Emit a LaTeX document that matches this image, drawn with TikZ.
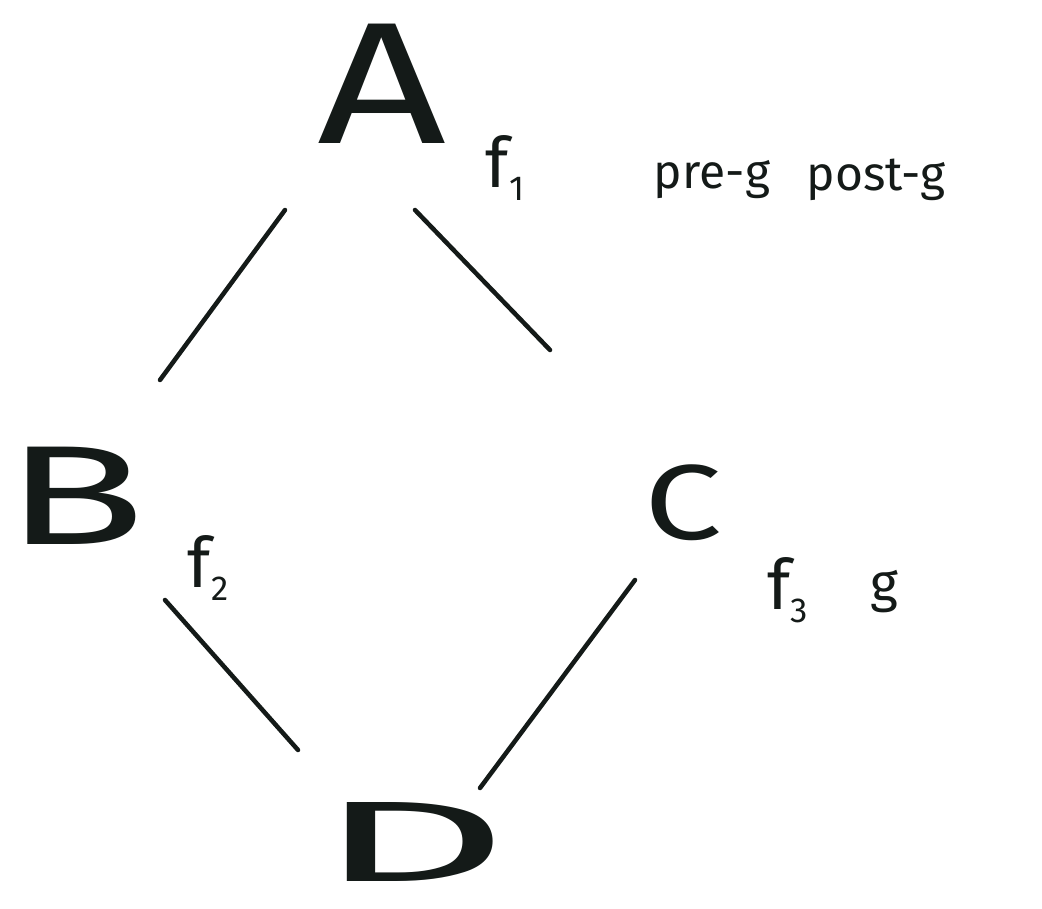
\documentclass[tikz,border=0pt]{standalone}
\usepackage{fontspec}
\setmainfont{Fira Sans}
\definecolor{ink}{HTML}{141A18}
\tikzset{
  big/.style={inner sep=0pt, text=ink, font=\fontsize{#1}{#1}\selectfont},
  edge/.style={draw=ink, line width=3.4pt, line cap=round},
}
\newcommand{\fsub}[1]{f\raisebox{-0.35ex}{\fontsize{26}{26}\selectfont #1}}
\newcommand{\wide}[2]{\scalebox{#1}[1]{#2}}
\begin{document}
\begin{tikzpicture}[x=0.75pt,y=-0.75pt]
\useasboundingbox (0,0) rectangle (1042,909);
\node[big=130] (A) at (382,84) {\wide{1.3}{A}};
\node[big=106] (B) at (75,496) {\wide{1.65}{B}};
\node[big=80] (C) at (683,503) {\wide{1.3}{C}};
\node[big=86] (D) at (413,842) {\wide{2.6}{D}};
\node[big=52] (f1) at (505,168) {\fsub{1}};
\node[big=36] (preg) at (712,180) {pre-g};
\node[big=36] (postg) at (876,180) {post-g};
\node[big=52] (f2) at (208,568) {\fsub{2}};
\node[big=52] (f3) at (788,590) {\fsub{3}};
\node[big=40] (g) at (884,592) {g};
\draw[edge] ([shift={(-97,126)}]A.center) -- ([shift={(85,-116)}]B.center);
\draw[edge] ([shift={(33,126)}]A.center) -- ([shift={(-133,-153)}]C.center);
\draw[edge] ([shift={(90,104)}]B.center) -- ([shift={(-115,-92)}]D.center);
\draw[edge] ([shift={(-48,77)}]C.center) -- ([shift={(67,-54)}]D.center);
\end{tikzpicture}
\end{document}
